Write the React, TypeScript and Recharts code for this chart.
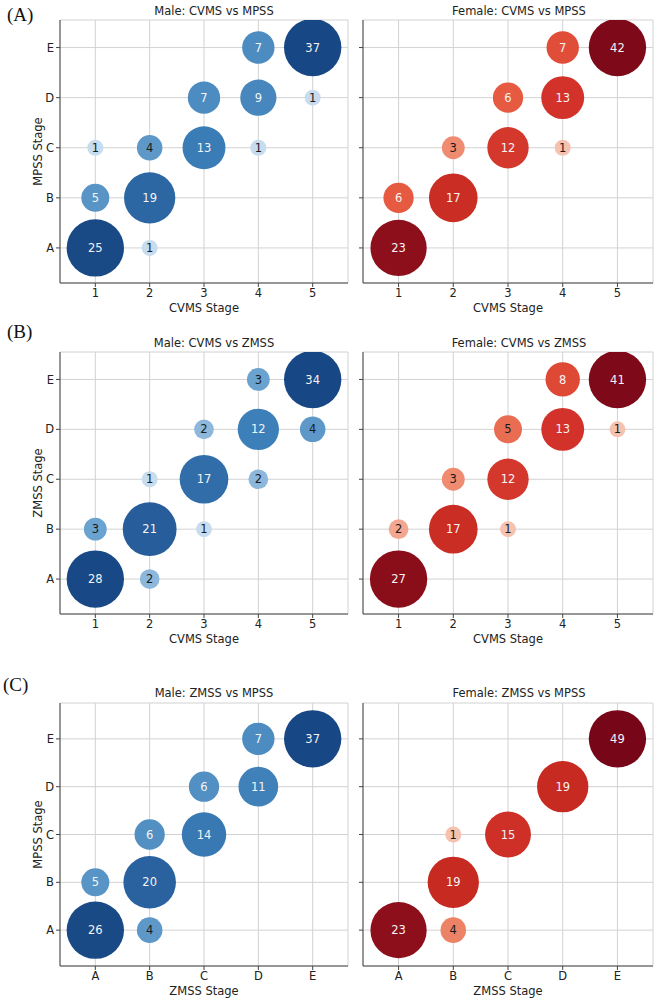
import { CartesianGrid, Scatter, ScatterChart, XAxis, YAxis, ZAxis } from 'recharts';

const stages = ['A', 'B', 'C', 'D', 'E'];
const tickValues = [1, 2, 3, 4, 5];

// [x stage, y stage, count]
type Cell = [number | string, string, number];

const maleCvmsMpss: Cell[] = [
  [1, 'A', 25], [2, 'A', 1],
  [1, 'B', 5], [2, 'B', 19],
  [1, 'C', 1], [2, 'C', 4], [3, 'C', 13], [4, 'C', 1],
  [3, 'D', 7], [4, 'D', 9], [5, 'D', 1],
  [4, 'E', 7], [5, 'E', 37],
];

const femaleCvmsMpss: Cell[] = [
  [1, 'A', 23],
  [1, 'B', 6], [2, 'B', 17],
  [2, 'C', 3], [3, 'C', 12], [4, 'C', 1],
  [3, 'D', 6], [4, 'D', 13],
  [4, 'E', 7], [5, 'E', 42],
];

const maleCvmsZmss: Cell[] = [
  [1, 'A', 28], [2, 'A', 2],
  [1, 'B', 3], [2, 'B', 21], [3, 'B', 1],
  [2, 'C', 1], [3, 'C', 17], [4, 'C', 2],
  [3, 'D', 2], [4, 'D', 12], [5, 'D', 4],
  [4, 'E', 3], [5, 'E', 34],
];

const femaleCvmsZmss: Cell[] = [
  [1, 'A', 27],
  [1, 'B', 2], [2, 'B', 17], [3, 'B', 1],
  [2, 'C', 3], [3, 'C', 12],
  [3, 'D', 5], [4, 'D', 13], [5, 'D', 1],
  [4, 'E', 8], [5, 'E', 41],
];

const maleZmssMpss: Cell[] = [
  ['A', 'A', 26], ['B', 'A', 4],
  ['A', 'B', 5], ['B', 'B', 20],
  ['B', 'C', 6], ['C', 'C', 14],
  ['C', 'D', 6], ['D', 'D', 11],
  ['D', 'E', 7], ['E', 'E', 37],
];

const femaleZmssMpss: Cell[] = [
  ['A', 'A', 23], ['B', 'A', 4],
  ['B', 'B', 19],
  ['B', 'C', 1], ['C', 'C', 15],
  ['D', 'D', 19],
  ['E', 'E', 49],
];

// colour ramps keyed by count
const blueRamp: [number, string][] = [
  [1, '#c8dcef'], [2, '#8db7db'], [3, '#6aa3cf'], [4, '#5d98c9'], [7, '#4d8cc0'],
  [13, '#3a7cb6'], [20, '#2a62a0'], [25, '#194a86'], [50, '#144482'],
];
const redRamp: [number, string][] = [
  [1, '#f6c2b0'], [3, '#ef8b70'], [4, '#ec8367'], [5, '#e86d52'], [6, '#e55a40'],
  [7, '#e04d38'], [13, '#d2322a'], [19, '#c62a20'], [22, '#8e0f1b'], [27, '#8a0e1a'], [50, '#770619'],
];

const toNum = (v: number | string) => (typeof v === 'number' ? v : stages.indexOf(v) + 1);

const buildRows = (cells: Cell[]) =>
  cells.map(([x, y, n]) => ({ x: toNum(x), y: toNum(y), n, z: Math.min(n, 24) }));

const hex = (c: string) => [1, 3, 5].map((i) => parseInt(c.slice(i, i + 2), 16));

function rampColor(ramp: [number, string][], n: number) {
  if (n <= ramp[0][0]) return ramp[0][1];
  for (let i = 1; i < ramp.length; i++) {
    const [n1, c1] = ramp[i];
    const [n0, c0] = ramp[i - 1];
    if (n <= n1) {
      const t = (n - n0) / (n1 - n0);
      const a = hex(c0);
      const b = hex(c1);
      return `rgb(${a.map((v, k) => Math.round(v + (b[k] - v) * t)).join(',')})`;
    }
  }
  return ramp[ramp.length - 1][1];
}

function Bubble(props: any) {
  const { cx, cy, payload, ramp, darkUpTo } = props;
  if (cx == null || cy == null) return null;
  const r = props.width ? props.width / 2 : Math.sqrt((props.size || 64) / Math.PI);
  return (
    <g>
      <circle cx={cx} cy={cy} r={r} fill={rampColor(ramp, payload.n)} />
      <text
        x={cx}
        y={cy}
        dy="0.36em"
        textAnchor="middle"
        fontSize={11.5}
        fill={payload.n <= darkUpTo ? '#1a1a1a' : '#f4f4f4'}
      >
        {payload.n}
      </text>
    </g>
  );
}

type PanelProps = {
  cells: Cell[];
  left: number;
  top: number;
  female: boolean;
  height: number;
  yDomain: [number, number];
  xLetters: boolean;
  xLabel: string;
  yLabel: string;
};

const axisColor = '#444';
const tickStyle = { fill: '#222', fontSize: 11.5 };

function Panel({ cells, left, top, female, height, yDomain, xLetters, xLabel, yLabel }: PanelProps) {
  const rows = buildRows(cells);
  const width = female ? 330 : 350;
  const yWidth = female ? 33 : 60;
  const ramp = female ? redRamp : blueRamp;
  const darkUpTo = female ? 5 : 4;
  return (
    <div style={{ position: 'absolute', left, top }}>
      <ScatterChart
        width={width}
        height={height}
        margin={{ top: 20, right: female ? 7 : 2, bottom: 7, left: 0 }}
      >
        <CartesianGrid stroke="#d2d2d2" strokeWidth={1} />
        <XAxis
          type="number"
          dataKey="x"
          domain={[0.35, 5.65]}
          ticks={tickValues}
          allowDataOverflow
          tickFormatter={(v) => (xLetters ? stages[v - 1] : String(v))}
          height={30}
          tickSize={4}
          tick={tickStyle}
          axisLine={{ stroke: axisColor }}
          tickLine={{ stroke: axisColor }}
          label={{ value: xLabel, position: 'insideBottom', offset: 1, fill: '#222', fontSize: 11.5 }}
        />
        <YAxis
          type="number"
          dataKey="y"
          domain={yDomain}
          ticks={tickValues}
          allowDataOverflow
          tickFormatter={(v) => (female ? '' : stages[v - 1])}
          width={yWidth}
          tickSize={4}
          tick={tickStyle}
          axisLine={{ stroke: axisColor }}
          tickLine={{ stroke: axisColor }}
          label={
            female
              ? undefined
              : {
                  value: yLabel,
                  angle: -90,
                  position: 'insideLeft',
                  offset: 38,
                  fill: '#222',
                  fontSize: 11.5,
                  style: { textAnchor: 'middle' },
                }
          }
        />
        <XAxis
          xAxisId="frame"
          orientation="top"
          type="number"
          domain={[0, 1]}
          height={0}
          tick={false}
          tickLine={false}
          axisLine={{ stroke: axisColor }}
        />
        <YAxis
          yAxisId="frame"
          orientation="right"
          type="number"
          domain={[0, 1]}
          width={0}
          tick={false}
          tickLine={false}
          axisLine={{ stroke: axisColor }}
        />
        <ZAxis type="number" dataKey="z" domain={[1, 25]} range={[64 * Math.PI, 856 * Math.PI]} />
        <Scatter
          data={rows}
          isAnimationActive={false}
          shape={(p: any) => <Bubble {...p} ramp={ramp} darkUpTo={darkUpTo} />}
        />
      </ScatterChart>
    </div>
  );
}

function Title({ text, cx, cy }: { text: string; cx: number; cy: number }) {
  return (
    <div
      style={{
        position: 'absolute',
        left: cx - 150,
        top: cy - 8,
        width: 300,
        lineHeight: '16px',
        textAlign: 'center',
        fontSize: 11.5,
        color: '#222',
        whiteSpace: 'nowrap',
      }}
    >
      {text}
    </div>
  );
}

function Tag({ text, x, cy }: { text: string; x: number; cy: number }) {
  return (
    <div
      style={{
        position: 'absolute',
        left: x,
        top: cy - 11,
        lineHeight: '22px',
        fontSize: 19,
        fontFamily: '"Liberation Serif", serif',
        color: '#111',
      }}
    >
      {text}
    </div>
  );
}

export default function App() {
  return (
    <div
      style={{
        position: 'absolute',
        left: 0,
        top: 0,
        width: 660,
        height: 1000,
        background: '#fff',
        fontFamily: '"DejaVu Sans", sans-serif',
        overflow: 'hidden',
      }}
    >
      <Panel cells={maleCvmsMpss} left={0} top={0} height={320} female={false} yDomain={[0.3, 5.55]} xLetters={false} xLabel="CVMS Stage" yLabel="MPSS Stage" />
      <Panel cells={femaleCvmsMpss} left={330} top={0} height={320} female yDomain={[0.3, 5.55]} xLetters={false} xLabel="CVMS Stage" yLabel="MPSS Stage" />
      <Panel cells={maleCvmsZmss} left={0} top={332} height={319} female={false} yDomain={[0.3, 5.55]} xLetters={false} xLabel="CVMS Stage" yLabel="ZMSS Stage" />
      <Panel cells={femaleCvmsZmss} left={330} top={332} height={319} female yDomain={[0.3, 5.55]} xLetters={false} xLabel="CVMS Stage" yLabel="ZMSS Stage" />
      <Panel cells={maleZmssMpss} left={0} top={683} height={320} female={false} yDomain={[0.25, 5.75]} xLetters xLabel="ZMSS Stage" yLabel="MPSS Stage" />
      <Panel cells={femaleZmssMpss} left={330} top={683} height={320} female yDomain={[0.25, 5.75]} xLetters xLabel="ZMSS Stage" yLabel="MPSS Stage" />

      <Title text="Male: CVMS vs MPSS" cx={214} cy={11} />
      <Title text="Female: CVMS vs MPSS" cx={519} cy={11} />
      <Title text="Male: CVMS vs ZMSS" cx={214} cy={343} />
      <Title text="Female: CVMS vs ZMSS" cx={519} cy={343} />
      <Title text="Male: ZMSS vs MPSS" cx={214} cy={693} />
      <Title text="Female: ZMSS vs MPSS" cx={519} cy={693} />

      <Tag text="(A)" x={7} cy={15} />
      <Tag text="(B)" x={7} cy={332} />
      <Tag text="(C)" x={3} cy={685} />
    </div>
  );
}
